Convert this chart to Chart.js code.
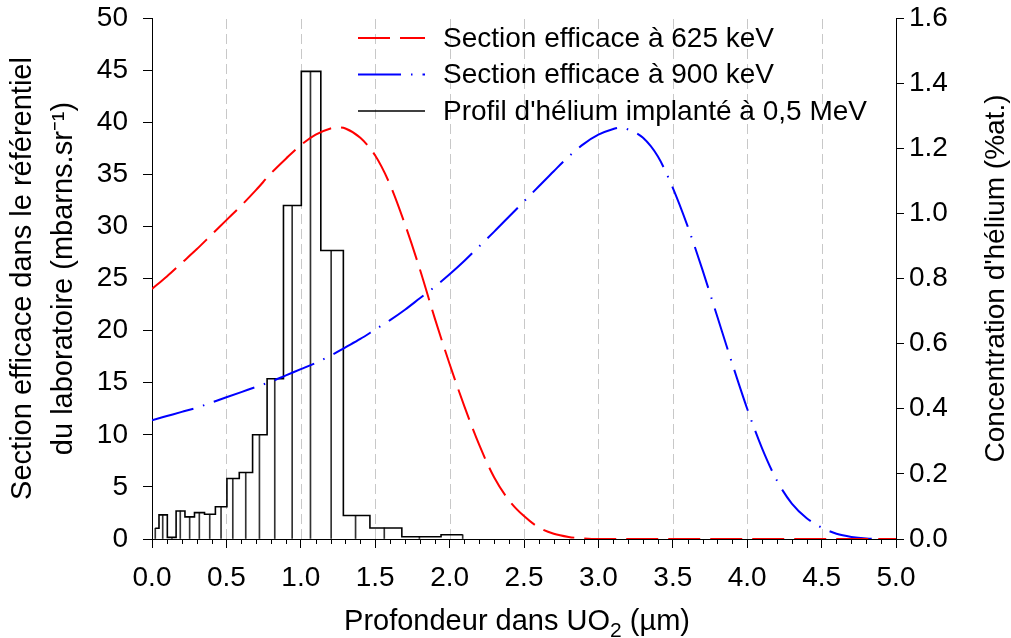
<!DOCTYPE html>
<html>
<head>
<meta charset="utf-8">
<script src="https://cdn.jsdelivr.net/npm/chart.js@4.4.0/dist/chart.umd.min.js"></script>
<style>
  html, body { margin: 0; padding: 0; background: #fff; }
  #wrap { width: 1011px; height: 638px; }
</style>
</head>
<body>
<div id="wrap"><canvas id="chart"></canvas></div>
<script>
// --------- Data ---------
// Section efficace à 625 keV (mbarns.sr-1, left axis)
const depth625 = [0.0, 0.1, 0.2, 0.3, 0.4, 0.5, 0.6, 0.7, 0.8, 0.9, 1.0, 1.1, 1.2, 1.25, 1.3, 1.4, 1.5, 1.6, 1.7, 1.8, 1.9, 2.0,
  2.1, 2.2, 2.3, 2.4, 2.5, 2.6, 2.7, 2.8, 2.9, 3.0, 3.5, 4.0, 4.5, 5.0];
const section625 = [24.0, 25.2, 26.5, 27.8, 29.2, 30.6, 32.0, 33.5, 35.1, 36.5, 37.8, 38.8, 39.4, 39.5, 39.4, 38.5, 36.8, 34.0, 30.2, 25.9, 21.2, 16.8,
  12.7, 9.0, 5.9, 3.7, 2.2, 1.1, 0.5, 0.2, 0.06, 0, 0, 0, 0, 0];

// Section efficace à 900 keV (mbarns.sr-1, left axis)
const depth900 = [0.0, 0.1, 0.2, 0.3, 0.4, 0.5, 0.6, 0.7, 0.8, 0.9, 1.0, 1.1, 1.2, 1.3, 1.4, 1.5, 1.6, 1.7, 1.8, 1.9, 2.0,
  2.1, 2.2, 2.3, 2.4, 2.5, 2.6, 2.7, 2.8, 2.9, 3.0, 3.1, 3.15, 3.2, 3.3, 3.4, 3.5, 3.6, 3.7, 3.8, 3.9, 4.0,
  4.1, 4.2, 4.3, 4.4, 4.5, 4.6, 4.7, 4.8, 4.9, 5.0];
const section900 = [11.4, 11.8, 12.2, 12.6, 13.1, 13.6, 14.1, 14.6, 15.1, 15.7, 16.3, 16.9, 17.6, 18.4, 19.2, 20.1, 21.0, 22.0, 23.1, 24.2, 25.4,
  26.7, 28.1, 29.5, 30.95, 32.4, 33.85, 35.3, 36.7, 37.9, 38.8, 39.35, 39.5, 39.3, 38.5, 36.7, 33.7, 30.0, 25.8, 21.3, 16.8, 12.5,
  8.7, 5.6, 3.4, 2.0, 1.1, 0.5, 0.2, 0.05, 0, 0];

// Profil d'hélium implanté à 0,5 MeV (%at., right axis)
const heliumDepth = [0.022, 0.072, 0.134, 0.190, 0.253, 0.318, 0.388, 0.464, 0.543, 0.630, 0.722, 0.825, 0.942,
  1.065, 1.204, 1.368, 1.561, 1.797, 2.088];
const heliumConc = [0.033, 0.074, 0.005, 0.086, 0.068, 0.081, 0.076, 0.099, 0.186, 0.204, 0.320, 0.492, 1.024,
  1.436, 0.886, 0.072, 0.034, 0.007, 0.013];

const legendLabels = ["Section efficace à 625 keV", "Section efficace à 900 keV", "Profil d'hélium implanté à 0,5 MeV"];
const xTitleParts = ["Profondeur dans UO", "2", " (µm)"];
const yTitle = ["Section efficace dans le référentiel", "du laboratoire (mbarns.sr⁻¹)"];
const y2Title = "Concentration d'hélium (%at.)";

const FONT = "'Liberation Sans', Arial, sans-serif";

const pts = (xs, ys) => xs.map((x, i) => ({ x, y: ys[i] }));

// --------- Plugins ---------
// dashed vertical grid at the labelled x ticks + minor ticks every 0.1
const gridPlugin = {
  id: "gridAndMinor",
  beforeDatasetsDraw(chart) {
    const { ctx, chartArea, scales } = chart;
    const xs = scales.x;
    ctx.save();
    ctx.strokeStyle = "#c8c8c8";
    ctx.lineWidth = 1;
    ctx.setLineDash([10, 5]);
    xs.ticks.forEach((t) => {
      if (t.value <= 0 || t.value >= 5) return;
      const px = Math.round(xs.getPixelForValue(t.value)) + 0.5;
      ctx.beginPath();
      ctx.moveTo(px, chartArea.bottom);
      ctx.lineTo(px, chartArea.top);
      ctx.stroke();
    });
    ctx.restore();
  },
  afterDraw(chart) {
    const { ctx, chartArea, scales } = chart;
    const xs = scales.x;
    ctx.save();
    ctx.strokeStyle = "#000";
    ctx.lineWidth = 1;
    for (let k = 1; k < 50; k++) {
      if (k % 5 === 0) continue;
      const px = Math.round(xs.getPixelForValue(k / 10)) + 0.5;
      ctx.beginPath();
      ctx.moveTo(px, chartArea.bottom);
      ctx.lineTo(px, chartArea.bottom + 5);
      ctx.stroke();
    }
    ctx.restore();
  }
};

// legend in the top-right of the plot, right axis title (bottom to top), x title with subscript
const textPlugin = {
  id: "textBits",
  afterDraw(chart) {
    const { ctx, chartArea } = chart;
    const rows = [38, 74.5, 111];
    ctx.save();
    chart.data.datasets.forEach((ds) => {
      if (ds.legendRow === undefined) return;
      const y = rows[ds.legendRow];
      ctx.strokeStyle = ds.borderColor;
      ctx.lineWidth = ds.borderWidth;
      ctx.setLineDash(ds.borderDash || []);
      ctx.beginPath();
      ctx.moveTo(358, y);
      ctx.lineTo(425, y);
      ctx.stroke();
      ctx.setLineDash([]);
      ctx.fillStyle = "#000";
      ctx.font = "28px " + FONT;
      ctx.textAlign = "left";
      ctx.textBaseline = "middle";
      ctx.fillText(ds.label, 443, y + 1);
    });

    // x axis title
    const big = "29px " + FONT;
    const small = "21px " + FONT;
    ctx.font = big;
    const w0 = ctx.measureText(xTitleParts[0]).width;
    const w2 = ctx.measureText(xTitleParts[2]).width;
    ctx.font = small;
    const w1 = ctx.measureText(xTitleParts[1]).width;
    let x = 517 - (w0 + w1 + w2) / 2;
    const yb = 630;
    ctx.textAlign = "left";
    ctx.textBaseline = "alphabetic";
    ctx.font = big;
    ctx.fillText(xTitleParts[0], x, yb);
    x += w0;
    ctx.font = small;
    ctx.fillText(xTitleParts[1], x, yb + 7);
    x += w1;
    ctx.font = big;
    ctx.fillText(xTitleParts[2], x, yb);

    // right axis title
    ctx.translate(996, (chartArea.top + chartArea.bottom) / 2);
    ctx.rotate(-Math.PI / 2);
    ctx.font = "28px " + FONT;
    ctx.textAlign = "center";
    ctx.textBaseline = "middle";
    ctx.fillText(y2Title, 0, 0);
    ctx.restore();
  }
};

// --------- Chart ---------
const ctx = document.getElementById("chart");
new Chart(ctx, {
  data: {
    datasets: [
      {
        type: "line",
        label: legendLabels[0],
        legendRow: 0,
        data: pts(depth625, section625),
        yAxisID: "y",
        borderColor: "#ff0000",
        borderWidth: 2,
        borderDash: [32, 10],
        pointRadius: 0,
        cubicInterpolationMode: "monotone",
        tension: 0.4,
        order: 0
      },
      {
        type: "line",
        label: legendLabels[1],
        legendRow: 1,
        data: pts(depth900, section900),
        yAxisID: "y",
        borderColor: "#0000ff",
        borderWidth: 2,
        borderDash: [43, 10, 1.5, 10],
        pointRadius: 0,
        cubicInterpolationMode: "monotone",
        tension: 0.4,
        order: 1
      },
      {
        type: "line",
        label: legendLabels[2],
        legendRow: 2,
        data: pts(heliumDepth, heliumConc),
        yAxisID: "y2",
        stepped: "middle",
        borderColor: "#000000",
        borderWidth: 1.6,
        pointRadius: 0,
        order: 2
      },
      {
        type: "bar",
        label: "drop lines",
        data: pts(heliumDepth, heliumConc),
        yAxisID: "y2",
        backgroundColor: "#333333",
        borderWidth: 0,
        barThickness: 1,
        order: 3
      }
    ]
  },
  options: {
    responsive: true,
    maintainAspectRatio: false,
    animation: false,
    layout: { padding: { top: 18, left: 0, right: 0, bottom: 0 } },
    plugins: {
      legend: { display: false },
      tooltip: { enabled: false }
    },
    scales: {
      x: {
        type: "linear",
        position: "bottom",
        min: 0,
        max: 5,
        offset: false,
        afterFit: (s) => { s.height = 99; },
        ticks: {
          stepSize: 0.5,
          autoSkip: false,
          maxRotation: 0,
          padding: 13,
          color: "#000",
          font: { family: FONT, size: 28 },
          callback: (v) => Number(v).toFixed(1)
        },
        grid: { offset: false, drawOnChartArea: false, drawTicks: true, tickLength: 9, tickColor: "#000" },
        border: { display: true, color: "#000", width: 1 },
        title: { display: false }
      },
      y: {
        type: "linear",
        position: "left",
        min: 0,
        max: 50,
        afterFit: (s) => { s.width = 152; s.paddingTop = 0; s.paddingBottom = 0; },
        ticks: {
          stepSize: 5,
          padding: 15,
          color: "#000",
          font: { family: FONT, size: 28 }
        },
        grid: { drawOnChartArea: false, drawTicks: true, tickLength: 9, tickColor: "#000" },
        border: { display: true, color: "#000", width: 1 },
        title: {
          display: true,
          text: yTitle,
          color: "#000",
          font: { family: FONT, size: 29, lineHeight: 1.42 },
          padding: { top: 2, bottom: 0 }
        }
      },
      y2: {
        type: "linear",
        position: "right",
        min: 0,
        max: 1.6,
        afterFit: (s) => { s.width = 115; s.paddingTop = 0; s.paddingBottom = 0; },
        ticks: {
          stepSize: 0.2,
          padding: 5,
          color: "#000",
          font: { family: FONT, size: 28 },
          callback: (v) => Number(v).toFixed(1)
        },
        grid: { drawOnChartArea: false, drawTicks: true, tickLength: 8, tickColor: "#000" },
        border: { display: true, color: "#000", width: 1 }
      }
    }
  },
  plugins: [gridPlugin, textPlugin]
});
</script>
</body>
</html>
